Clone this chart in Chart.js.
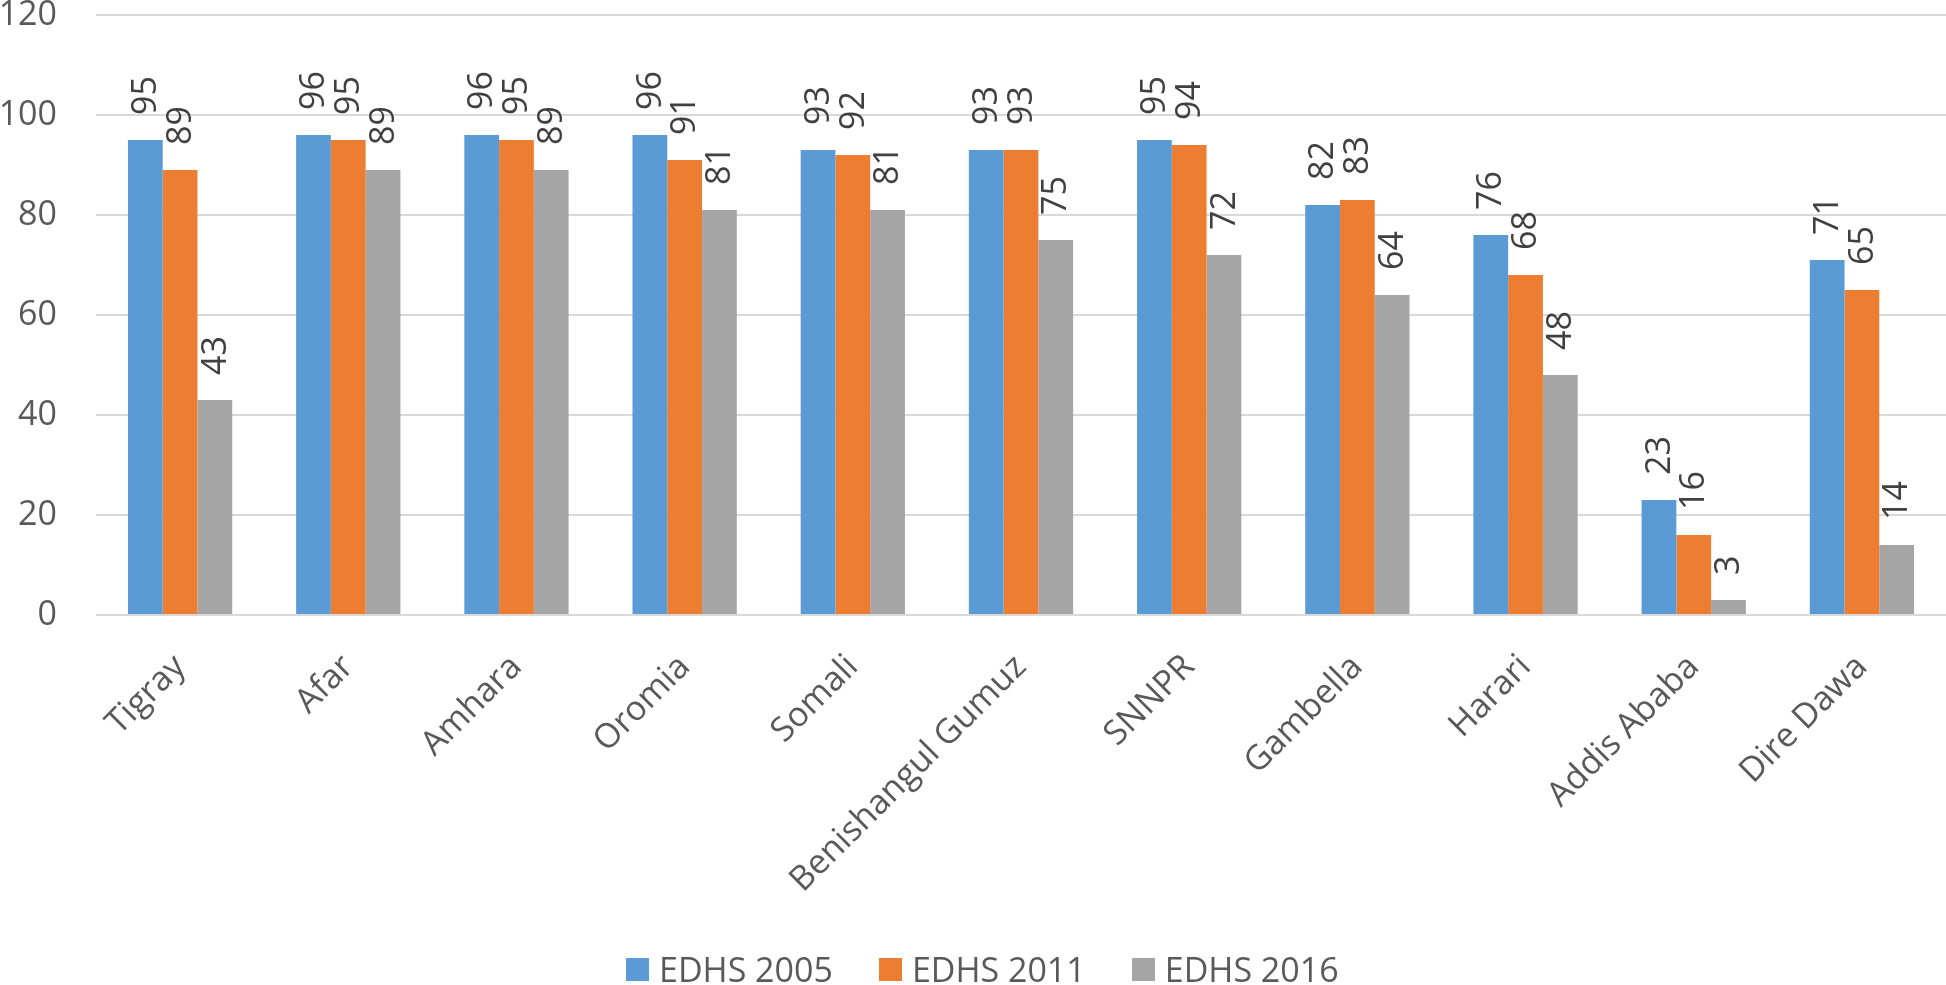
<!DOCTYPE html>
<html>
<head>
<meta charset="utf-8">
<script src="https://cdn.jsdelivr.net/npm/chart.js@4.4.1/dist/chart.umd.min.js"></script>
<style>
  html, body { margin: 0; padding: 0; background: #fff; }
  #wrap { position: relative; width: 1946px; height: 985px; }
  #legend { position: absolute; left: 626px; top: 952px; display: flex; align-items: center;
    font-family: "Open Sans", sans-serif; font-size: 34px; color: #595959; line-height: 34px; }
  #legend .item { display: flex; align-items: center; margin-right: 46px; }
  #legend .box { width: 23px; height: 23px; margin-right: 10px; }
</style>
</head>
<body>
<div id="wrap">
  <canvas id="chart"></canvas>
  <div id="legend"></div>
</div>
<script>
// Data
const regions = ["Tigray", "Afar", "Amhara", "Oromia", "Somali", "Benishangul Gumuz",
  "SNNPR", "Gambella", "Harari", "Addis Ababa", "Dire Dawa"];
const edhs2005 = [95, 96, 96, 96, 93, 93, 95, 82, 76, 23, 71];
const edhs2011 = [89, 95, 95, 91, 92, 93, 94, 83, 68, 16, 65];
const edhs2016 = [43, 89, 89, 81, 81, 75, 72, 64, 48, 3, 14];
const seriesNames = ["EDHS 2005", "EDHS 2011", "EDHS 2016"];
const seriesColors = ["#5B9BD5", "#ED7D31", "#A5A5A5"];

const FONT = "'Open Sans', sans-serif";

// Vertical value labels above each bar
const barLabels = {
  id: "barLabels",
  afterDatasetsDraw(chart) {
    const ctx = chart.ctx;
    ctx.save();
    ctx.font = `34px ${FONT}`;
    ctx.fillStyle = "#404040";
    ctx.textAlign = "left";
    ctx.textBaseline = "middle";
    chart.data.datasets.forEach((ds, i) => {
      chart.getDatasetMeta(i).data.forEach((bar, j) => {
        ctx.save();
        ctx.translate(bar.x + 1, bar.y - 25);
        ctx.rotate(-Math.PI / 2);
        ctx.fillText(String(ds.data[j]), 0, 0);
        ctx.restore();
      });
    });
    ctx.restore();
  }
};

const datasets = [edhs2005, edhs2011, edhs2016].map((d, i) => ({
  label: seriesNames[i],
  data: d,
  backgroundColor: seriesColors[i],
  borderWidth: 0,
  barPercentage: 1,
  categoryPercentage: 0.62,
}));

const ctx = document.getElementById("chart").getContext("2d");
new Chart(ctx, {
  type: "bar",
  data: { labels: regions, datasets },
  options: {
    responsive: true,
    maintainAspectRatio: false,
    animation: false,
    layout: { padding: { top: 15, right: 0, left: 0, bottom: 0 } },
    plugins: { legend: { display: false }, tooltip: { enabled: false } },
    scales: {
      x: {
        grid: { display: false, drawTicks: false },
        border: { display: false },
        ticks: {
          font: { family: FONT, size: 34 },
          color: "#595959",
          maxRotation: 45,
          minRotation: 45,
          autoSkip: false,
          padding: 32,
          labelOffset: 0,
        },
        afterFit(scale) {
          scale.height = 370;
          scale.paddingLeft = 0;
          scale.paddingRight = 0;
        },
      },
      y: {
        min: 0,
        max: 120,
        ticks: {
          stepSize: 20,
          font: { family: FONT, size: 34 },
          color: "#595959",
          padding: 39,
        },
        grid: { color: "#D9D9D9", lineWidth: 2, drawTicks: false },
        border: { display: false },
        afterFit(scale) {
          scale.width = 96;
          scale.paddingTop = 0;
          scale.paddingBottom = 0;
        },
      },
    },
  },
  plugins: [barLabels],
});

// Legend
const legendEl = document.getElementById("legend");
seriesNames.forEach((name, i) => {
  const item = document.createElement("div");
  item.className = "item";
  const box = document.createElement("span");
  box.className = "box";
  box.style.background = seriesColors[i];
  const txt = document.createElement("span");
  txt.textContent = name;
  item.appendChild(box);
  item.appendChild(txt);
  legendEl.appendChild(item);
});
</script>
</body>
</html>
